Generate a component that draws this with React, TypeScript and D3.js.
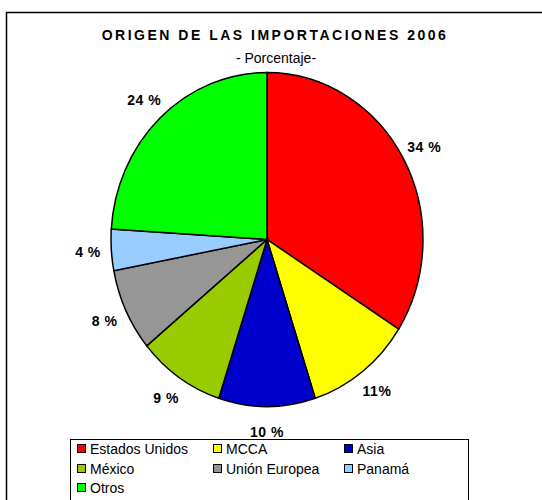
import React, { useEffect, useRef } from 'react';
import * as d3 from 'd3';

const categories = ['Estados Unidos', 'MCCA', 'Asia', 'México', 'Unión Europea', 'Panamá', 'Otros'];
const values = [34, 11, 10, 9, 8, 4, 24];
const labels = ['34 %', '11%', '10 %', '9 %', '8 %', '4 %', '24 %'];
const colors = ['#FF0000', '#FFFF00', '#0000CC', '#99CC00', '#969696', '#99CCFF', '#00FF00'];

const W = 542;
const H = 500;
const FONT = '"Liberation Sans", Arial, sans-serif';

const App = () => {
  const svgRef = useRef<SVGSVGElement>(null);

  useEffect(() => {
    const svg = d3.select(svgRef.current);
    svg.selectAll('*').remove();

    // outer frame
    svg.append('rect')
      .attr('x', 6.5).attr('y', 12.5)
      .attr('width', W).attr('height', H)
      .attr('fill', '#fff').attr('stroke', '#000').attr('stroke-width', 1.5);

    svg.append('text')
      .attr('x', 275).attr('y', 40)
      .attr('text-anchor', 'middle')
      .style('font-family', FONT).style('font-size', '14px').style('font-weight', 'bold')
      .style('letter-spacing', '2.5px')
      .text('ORIGEN DE LAS IMPORTACIONES 2006');

    svg.append('text')
      .attr('x', 276).attr('y', 63)
      .attr('text-anchor', 'middle')
      .style('font-family', FONT).style('font-size', '14px')
      .text('- Porcentaje-');

    const cx = 267, cy = 239.5, rx = 156, ry = 167;

    const pie = d3.pie<number>().sort(null).value((d) => d);
    const arcs = pie(values);
    const arc = d3.arc<d3.PieArcDatum<number>>().innerRadius(0).outerRadius(1);

    const g = svg.append('g')
      .attr('transform', `translate(${cx},${cy}) scale(${rx},${ry})`);

    g.selectAll('path')
      .data(arcs)
      .join('path')
      .attr('d', arc)
      .attr('fill', (_, i) => colors[i])
      .attr('stroke', '#000')
      .attr('stroke-width', 1.5)
      .attr('vector-effect', 'non-scaling-stroke');

    // data labels sit on a slightly larger ellipse
    const k = 1.15;
    svg.append('g')
      .selectAll('text')
      .data(arcs)
      .join('text')
      .attr('x', (d) => cx + rx * k * Math.sin((d.startAngle + d.endAngle) / 2))
      .attr('y', (d) => cy - ry * k * Math.cos((d.startAngle + d.endAngle) / 2))
      .attr('text-anchor', 'middle')
      .attr('dominant-baseline', 'central')
      .style('font-family', FONT).style('font-size', '14px').style('font-weight', 'bold')
      .style('letter-spacing', '0.5px')
      .text((_, i) => labels[i]);

    // legend
    const lg = svg.append('g');
    lg.append('rect')
      .attr('x', 70.5).attr('y', 439.5)
      .attr('width', 398).attr('height', 80)
      .attr('fill', '#fff').attr('stroke', '#000').attr('stroke-width', 1);

    const colX = [77, 213, 344];
    const rowY = [449, 469, 488];
    const items = lg.selectAll('g.item')
      .data(categories)
      .join('g')
      .attr('class', 'item')
      .attr('transform', (_, i) => `translate(${colX[i % 3]},${rowY[Math.floor(i / 3)]})`);

    items.append('rect')
      .attr('x', 0.5).attr('y', -4.5)
      .attr('width', 8).attr('height', 8)
      .attr('fill', (_, i) => colors[i])
      .attr('stroke', '#000').attr('stroke-width', 1);

    items.append('text')
      .attr('x', 13).attr('y', 0)
      .attr('dominant-baseline', 'central')
      .style('font-family', FONT).style('font-size', '14px')
      .text((d) => d);
  }, []);

  return (
    <svg
      ref={svgRef}
      width={W}
      height={H}
      style={{ position: 'absolute', left: 0, top: 0, background: '#fff' }}
    />
  );
};

export default App;
